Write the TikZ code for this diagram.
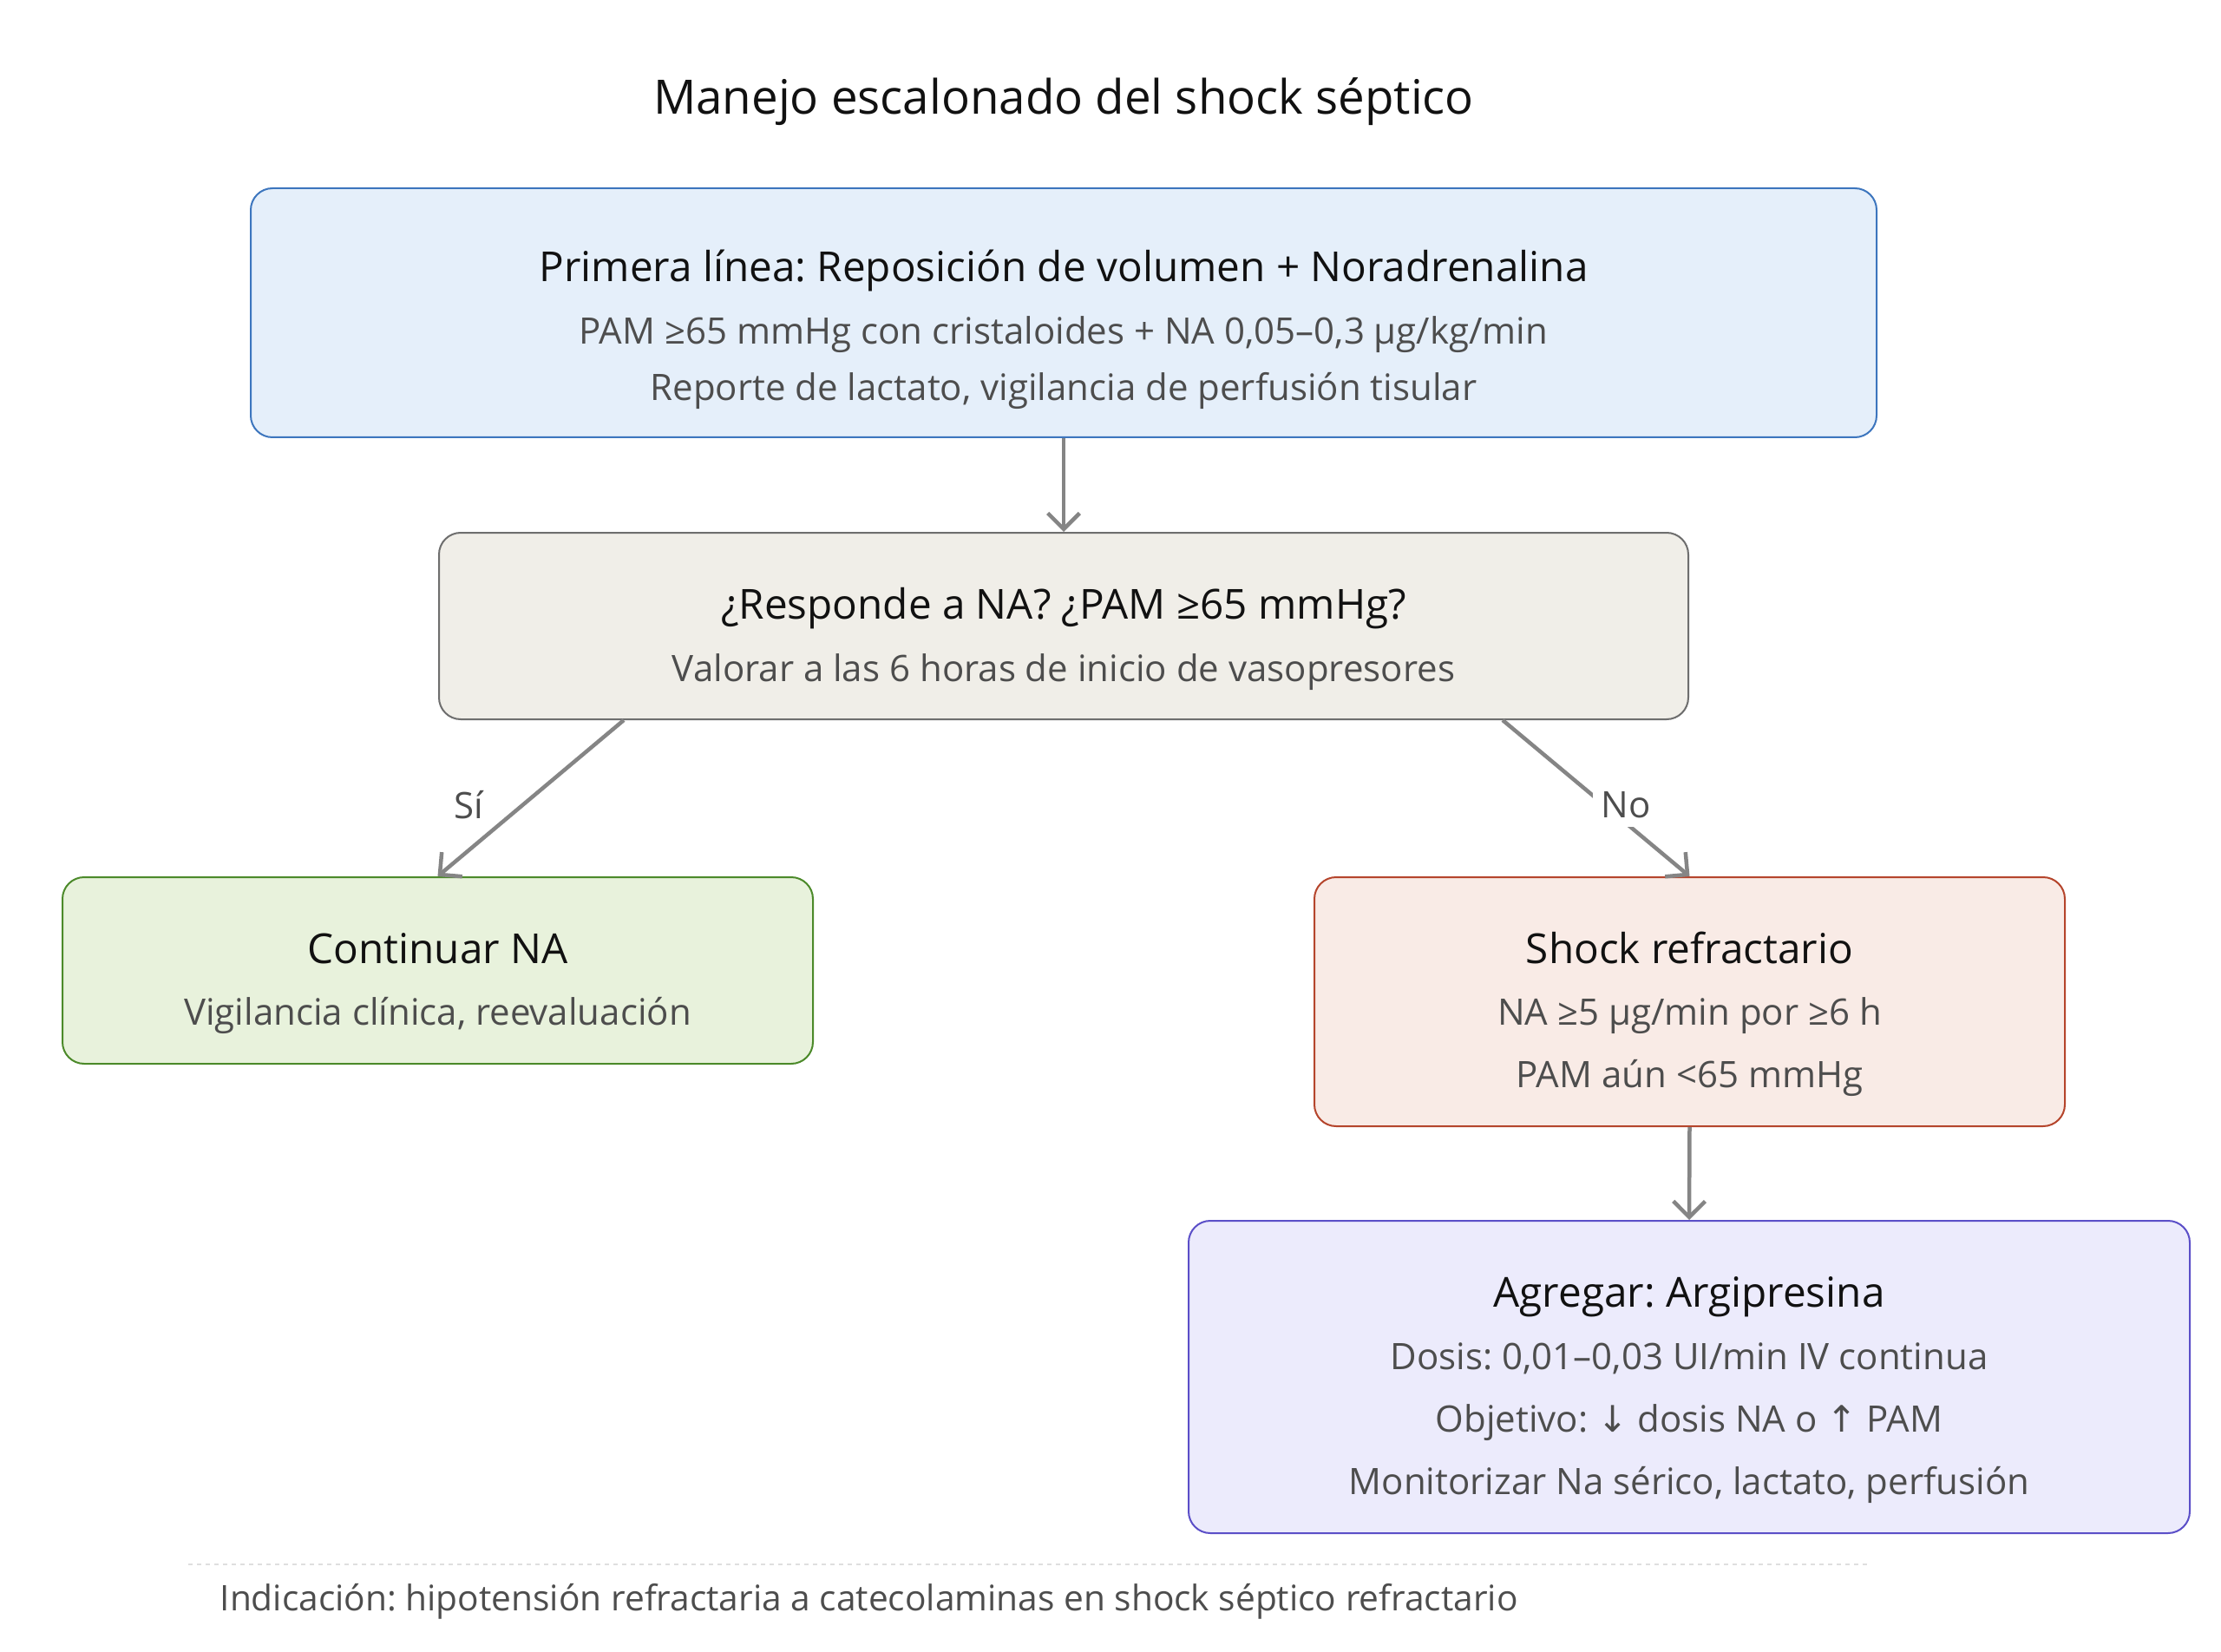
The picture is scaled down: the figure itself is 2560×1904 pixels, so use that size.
\documentclass[tikz,border=0pt]{standalone}
\usepackage{fontspec}
\setmainfont{Open Sans}
\newfontfamily\symfont{DejaVu Sans}
\usetikzlibrary{arrows.meta}
\frenchspacing

\definecolor{blueFill}{HTML}{E5EFFA}
\definecolor{blueLine}{HTML}{3D76BE}
\definecolor{sandFill}{HTML}{F0EEE8}
\definecolor{sandLine}{HTML}{6E6E6E}
\definecolor{greenFill}{HTML}{E8F2DC}
\definecolor{greenLine}{HTML}{4C8A2A}
\definecolor{redFill}{HTML}{F9EBE6}
\definecolor{redLine}{HTML}{B5452C}
\definecolor{lilaFill}{HTML}{ECEBFC}
\definecolor{lilaLine}{HTML}{5B4FC8}
\definecolor{headText}{HTML}{111111}
\definecolor{subText}{HTML}{4D4D4D}
\definecolor{arrowGray}{HTML}{858585}

\tikzset{
  box/.style={rectangle, rounded corners=7.5pt, line width=0.6pt, inner sep=0pt},
  head/.style={anchor=mid, text=headText, font=\fontsize{14.3}{16}\selectfont},
  sub/.style={anchor=mid, text=subText, font=\fontsize{12.6}{15}\selectfont},
  arr/.style={draw=arrowGray, line width=1.35pt, -{Straight Barb[length=5.5pt,width=11pt]}},
  lbl/.style={fill=white, inner sep=3pt, text=subText, font=\fontsize{12.6}{15}\selectfont}
}

\begin{document}
\begin{tikzpicture}[x=0.3pt, y=-0.3pt]
  \useasboundingbox[fill=white] (0,0) rectangle (2560,1904);

  % title
  \node[anchor=mid, text=headText, font=\fontsize{16.4}{19}\selectfont] (title) at (1226,123) {Manejo escalonado del shock séptico};

  % boxes
  \node[box, fill=blueFill, draw=blueLine, minimum width=562.2pt, minimum height=86.1pt] (first) at (1226,360.5) {};
  \node[box, fill=sandFill, draw=sandLine, minimum width=432pt, minimum height=64.5pt] (check) at (1226,721.5) {};
  \node[box, fill=greenFill, draw=greenLine, minimum width=259.5pt, minimum height=64.5pt] (cont) at (504.5,1118.5) {};
  \node[box, fill=redFill, draw=redLine, minimum width=259.5pt, minimum height=86.1pt] (refr) at (1947.5,1154.5) {};
  \node[box, fill=lilaFill, draw=lilaLine, minimum width=346.2pt, minimum height=108pt] (argi) at (1947,1587) {};

  % texts
  \node[head] (firstH) at (1226,316) {Primera línea: Reposición de volumen + Noradrenalina};
  \node[sub] (firstA) at (1226,388) {PAM ≥65 mmHg con cristaloides + NA 0,05–0,3 µg/kg/min};
  \node[sub] (firstB) at (1226,453) {Reporte de lactato, vigilancia de perfusión tisular};

  \node[head] (checkH) at (1226,705) {¿Responde a NA? ¿PAM ≥65 mmHg?};
  \node[sub] (checkA) at (1226,777) {Valorar a las 6 horas de inicio de vasopresores};

  \node[head] (contH) at (504.5,1102) {Continuar NA};
  \node[sub] (contA) at (504.5,1173) {Vigilancia clínica, reevaluación};

  \node[head] (refrH) at (1947.5,1102) {Shock refractario};
  \node[sub] (refrA) at (1947.5,1173) {NA ≥5 µg/min por ≥6 h};
  \node[sub] (refrB) at (1947.5,1245) {PAM aún <65 mmHg};

  \node[head] (argiH) at (1947,1498) {Agregar: Argipresina};
  \node[sub] (argiA) at (1947,1570) {Dosis: 0,01–0,03 UI/min IV continua};
  \node[sub] (argiB) at (1947,1642) {Objetivo: {\symfont ↓} dosis NA o {\symfont ↑} PAM};
  \node[sub] (argiC) at (1947,1714) {Monitorizar Na sérico, lactato, perfusión};

  % connectors
  \draw[arr] (first.south) -- (check.north);
  \draw[arr] ([xshift=64.2pt]check.south west) -- (cont.north);
  \draw[arr] ([xshift=-64.5pt]check.south east) -- (refr.north);
  \draw[arr] (refr.south) -- (argi.north);

  \node[lbl] (yes) at (540,928) {Sí};
  \node[lbl] (no) at (1874,928) {No};

  % footer
  \coordinate (sepL) at (217,1803);
  \coordinate (sepR) at (2155,1803);
  \draw[gray!25, line width=0.6pt, dash pattern=on 1.5pt off 1.5pt] (sepL) -- (sepR);
  \node[anchor=mid west, inner sep=0pt, text=subText, font=\fontsize{12.2}{14}\selectfont] (note) at (253,1848) {Indicación: hipotensión refractaria a catecolaminas en shock séptico refractario};
\end{tikzpicture}
\end{document}
